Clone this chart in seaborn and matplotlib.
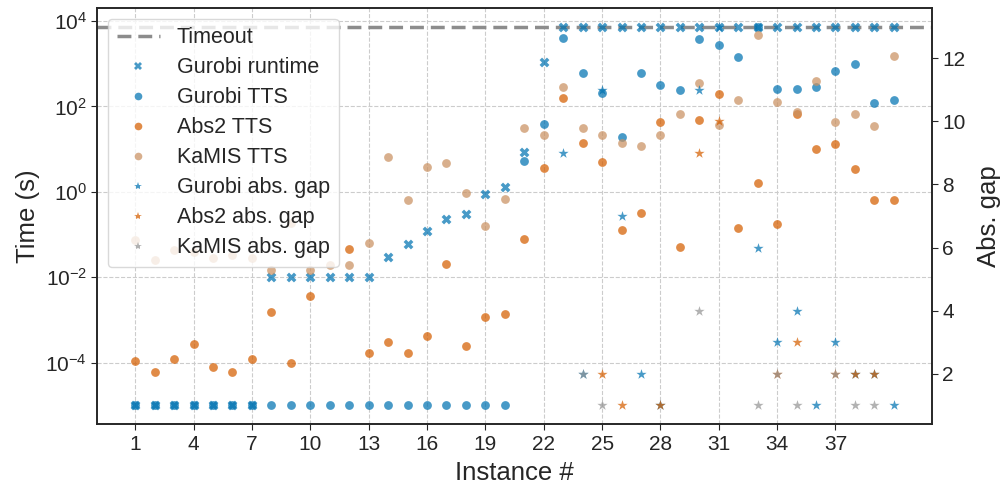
import numpy as np
import matplotlib
matplotlib.use("Agg")
import matplotlib.pyplot as plt
from matplotlib.lines import Line2D
import seaborn as sns

nan = np.nan
instances = list(range(1, 41))
xtick_vals = [1, 4, 7, 10, 13, 16, 19, 22, 25, 28, 31, 34, 37]
timeout = 7200

gurobi_runtime = [1e-5, 1e-5, 1e-5, 1e-5, 1e-5, 1e-5, 1e-5,
                  0.01, 0.01, 0.01, 0.01, 0.01, 0.01,
                  0.03, 0.06, 0.12, 0.23, 0.3, 0.87, 1.3, 8.4, 1070,
                  7200, 7200, 7200, 7200, 7200, 7200, 7200, 7200, 7200,
                  7200, 7200, 7200, 7200, 7200, 7200, 7200, 7200, 7200]
gurobi_tts = [1e-5, 1e-5, 1e-5, 1e-5, 1e-5, 1e-5, 1e-5, 1e-5, 1e-5, 1e-5,
              1e-5, 1e-5, 1e-5, 1e-5, 1e-5, 1e-5, 1e-5, 1e-5, 1e-5, 1e-5,
              5.2, 38, 4000, 615, 205, 19.5, 600, 310, 245, 3800,
              2760, 1400, 7200, 250, 250, 280, 660, 1000, 120, 140]
abs2_tts = [1.1e-4, 6e-5, 1.2e-4, 2.7e-4, 8e-5, 6e-5, 1.2e-4, 1.5e-3, 1e-4, 3.6e-3,
            nan, 0.046, 1.7e-4, 3e-4, 1.7e-4, 4.3e-4, 0.02, 2.4e-4, 1.2e-3, 1.35e-3,
            0.078, 3.7, 155, 14, 5.1, 0.13, 0.32, 44, 0.051, 49,
            200, 0.14, 1.6, 0.18, 68, 10, 13, 3.4, 0.65, 0.65]
kamis_tts = [0.074, 0.025, 0.044, 0.04, 0.028, 0.033, 0.029, 0.015, 0.19, 0.0145,
             0.019, 0.019, 0.063, 6.5, 0.65, 3.9, 4.8, 0.93, 0.155, 0.67,
             31, 21, 280, 31, 22, 14, 12, 22, 68, 350,
             37, 145, 4700, 130, 76, 390, 44, 68, 35, 1550]
gurobi_gap = [nan] * 22 + [9, 2, 11, 7, 2, 1, nan, 11, 13, nan, 6, 3, 4, 1, 3, 2, 2, 1]
abs2_gap = [nan] * 24 + [2, 1, nan, 1, nan, 9, 10, nan, nan, 2, 3, nan, 2, 2, 2, nan]
kamis_gap = [nan] * 23 + [2, 1, nan, nan, nan, nan, 4, nan, nan, 1, 2, 1, nan, 2, 1, 1, nan]

sns.set_style("ticks")
plt.rcParams['font.family'] = ['Liberation Sans', 'DejaVu Sans']
plt.rcParams['mathtext.default'] = 'regular'

c_blue = "#0173B2"
c_orange = "#D55E00"
c_brown = "#CA9161"
c_gray = "#949494"
alpha = 0.72

fig, ax1 = plt.subplots(figsize=(10.03, 4.87), dpi=100)
fig.subplots_adjust(left=0.097, right=0.929, top=0.984, bottom=0.129)
ax2 = ax1.twinx()

ax1.axhline(timeout, color="#8c8c8c", lw=2.5, ls=(0, (4, 2)), zorder=1.5)

kw = dict(ax=ax1, alpha=alpha, linewidth=0, zorder=3, legend=False)
sns.scatterplot(x=instances, y=gurobi_runtime, marker="X", color=c_blue, s=50, **kw)
sns.scatterplot(x=instances, y=gurobi_tts, marker="o", color=c_blue, s=40, **kw)
sns.scatterplot(x=instances, y=abs2_tts, marker="o", color=c_orange, s=40, **kw)
sns.scatterplot(x=instances, y=kamis_tts, marker="o", color=c_brown, s=40, **kw)

kw2 = dict(ax=ax2, alpha=alpha, linewidth=0, zorder=3, legend=False)
sns.scatterplot(x=instances, y=gurobi_gap, marker="*", color=c_blue, s=60, **kw2)
sns.scatterplot(x=instances, y=abs2_gap, marker="*", color=c_orange, s=60, **kw2)
sns.scatterplot(x=instances, y=kamis_gap, marker="*", color=c_gray, s=60, **kw2)

ax1.set_yscale("log")
ax1.set_ylim(10 ** -5.44, 10 ** 4.31)
ax1.set_yticks([1e-4, 1e-2, 1, 1e2, 1e4])
ax1.yaxis.set_minor_locator(matplotlib.ticker.NullLocator())
ax1.set_xlim(-0.95, 41.95)
ax1.set_xticks(xtick_vals)
ax1.set_xticklabels([str(v) for v in xtick_vals])
ax2.set_ylim(0.4, 13.6)
ax2.set_yticks([2, 4, 6, 8, 10, 12])

ax1.grid(True, which="major", ls="--", color="#cccccc", lw=0.8)
ax1.set_axisbelow(True)
ax2.grid(False)

for ax in (ax1, ax2):
    ax.tick_params(labelsize=15, colors="#262626", length=4)
    for sp in ax.spines.values():
        sp.set_visible(True)
        sp.set_color("#262626")
        sp.set_linewidth(1.2)

ax1.set_xlabel("Instance #", fontsize=18.5, color="#262626", labelpad=5)
ax1.set_ylabel("Time (s)", fontsize=18.5, color="#262626", labelpad=4)
ax2.set_ylabel("Abs. gap", fontsize=18.5, color="#262626", labelpad=8)

def mk(marker, color, ms):
    return Line2D([], [], ls="none", marker=marker, color=color, alpha=alpha,
                  markersize=ms, markeredgewidth=0)

handles = [
    Line2D([], [], color="#8c8c8c", lw=2.5, ls=(0, (4, 2))),
    mk("X", c_blue, 6), mk("o", c_blue, 5.5), mk("o", c_orange, 5.5),
    mk("o", c_brown, 5.5), mk("*", c_blue, 6), mk("*", c_orange, 6), mk("*", c_gray, 6),
]
labels = ["Timeout", "Gurobi runtime", "Gurobi TTS", "Abs2 TTS", "KaMIS TTS",
          "Gurobi abs. gap", "Abs2 abs. gap", "KaMIS abs. gap"]
leg = ax2.legend(handles, labels, loc="upper left", fontsize=15.5, labelspacing=0.42,
                 framealpha=0.8)
leg.get_frame().set_edgecolor("#d0d0d0")

fig.savefig("out.png", dpi=100)
